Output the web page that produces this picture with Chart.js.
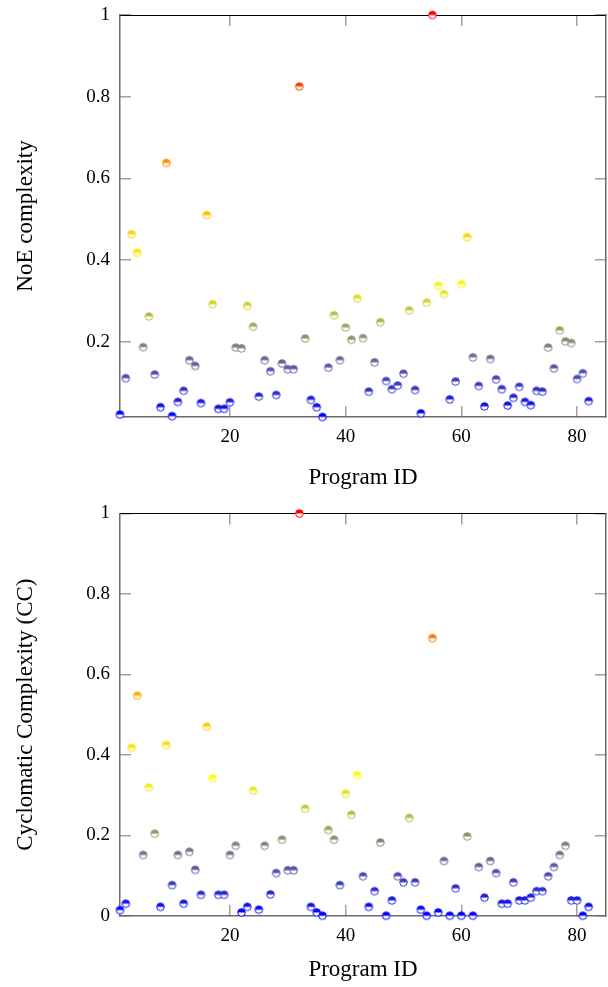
<!DOCTYPE html>
<html><head><meta charset="utf-8">
<script src="https://cdn.jsdelivr.net/npm/chart.js@4.4.1/dist/chart.umd.min.js"></script>
<style>
html,body{margin:0;padding:0;background:#fff;}
#w1{position:absolute;left:0;top:0;width:608px;height:493px;}
#w2{position:absolute;left:0;top:493px;width:608px;height:494px;}
canvas{display:block;}
</style></head><body>
<div id="w1"><canvas id="c1" width="608" height="493"></canvas></div>
<div id="w2"><canvas id="c2" width="608" height="494"></canvas></div>
<script>
const programIds = [1,2,3,4,5,6,7,8,9,10,11,12,13,14,15,16,17,18,19,20,21,22,23,24,25,26,27,28,29,30,31,32,33,34,35,36,37,38,39,40,41,42,43,44,45,46,47,48,49,50,51,52,53,54,55,56,57,58,59,60,61,62,63,64,65,66,67,68,69,70,71,72,73,74,75,76,77,78,79,80,81,82];
const noeComplexity = [0.022,0.111,0.463,0.418,0.187,0.262,0.120,0.040,0.638,0.018,
  0.053,0.080,0.155,0.141,0.050,0.510,0.292,0.036,0.036,0.052,
  0.186,0.184,0.288,0.237,0.066,0.155,0.128,0.070,0.147,0.133,
  0.133,0.825,0.208,0.058,0.040,0.016,0.137,0.265,0.155,0.235,
  0.205,0.306,0.209,0.078,0.150,0.248,0.104,0.084,0.093,0.122,
  0.277,0.082,0.025,0.296,1.000,0.337,0.317,0.059,0.103,0.341,
  0.456,0.162,0.092,0.042,0.158,0.108,0.084,0.044,0.063,0.090,
  0.053,0.045,0.080,0.078,0.186,0.135,0.228,0.201,0.197,0.109,
  0.123,0.055];
const cyclomaticComplexity = [0.014,0.030,0.417,0.547,0.151,0.319,0.204,0.022,0.424,0.076,
  0.151,0.030,0.159,0.114,0.052,0.470,0.341,0.052,0.052,0.151,
  0.174,0.008,0.022,0.311,0.015,0.174,0.053,0.106,0.189,0.113,
  0.113,1.000,0.266,0.022,0.008,0.000,0.213,0.189,0.076,0.303,
  0.251,0.349,0.098,0.022,0.061,0.182,0.000,0.038,0.098,0.083,
  0.243,0.083,0.015,0.000,0.690,0.008,0.136,0.000,0.068,0.000,
  0.197,0.000,0.121,0.045,0.136,0.106,0.030,0.030,0.083,0.038,
  0.038,0.045,0.061,0.061,0.098,0.121,0.151,0.174,0.038,0.038,
  0.000,0.022];
const xTickValues = [20,40,60,80];
const noeTickValues = [0.2,0.4,0.6,0.8,1];
const ccTickValues = [0,0.2,0.4,0.6,0.8,1];
const xTitle = 'Program ID';
const noeTitle = 'NoE complexity';
const ccTitle = 'Cyclomatic Complexity (CC)';

const FONT = "'Liberation Serif', 'Times New Roman', serif";

function colorFor(v, lo, hi) {
  const t = (v - lo) / (hi - lo);
  const s = 0.34;
  let r, g, b;
  if (t <= s) { const f = t / s; r = 255 * f; g = 255 * f; b = 255 * (1 - f); }
  else { const f = (t - s) / (1 - s); r = 255; g = 255 * (1 - f); b = 0; }
  return 'rgb(' + Math.round(r) + ',' + Math.round(g) + ',' + Math.round(b) + ')';
}
const cache = {};
function halfCircle(color) {
  if (cache[color]) return cache[color];
  const c = document.createElement('canvas'); c.width = 11; c.height = 11;
  const g = c.getContext('2d');
  const cx = 5.5, cy = 5.5, r = 3.8;
  g.fillStyle = '#fff'; g.beginPath(); g.arc(cx, cy, r, 0, 2 * Math.PI); g.fill();
  g.fillStyle = color; g.beginPath(); g.arc(cx, cy, r, Math.PI, 2 * Math.PI); g.closePath(); g.fill();
  g.strokeStyle = color; g.lineWidth = 1; g.beginPath(); g.arc(cx, cy, r, 0, 2 * Math.PI); g.stroke();
  cache[color] = c; return c;
}
function zeroPad(s) { s.paddingTop = 0; s.paddingBottom = 0; s.paddingLeft = 0; s.paddingRight = 0; }

function makeChart(id, values, yTicks, yTitle, cfg) {
  const lo = Math.min(...values), hi = Math.max(...values);
  const tickGrid = { drawOnChartArea: false, drawTicks: true, tickLength: -11, color: '#a0a0a0', lineWidth: 1.5 };
  const setX = s => { s.ticks = xTickValues.map(v => ({ value: v })); };
  const setY = s => { s.ticks = yTicks.map(v => ({ value: v })); };
  return new Chart(document.getElementById(id), {
    type: 'scatter',
    data: { datasets: [{
      data: programIds.map((p, i) => ({ x: p, y: values[i] })),
      pointStyle: ctx => halfCircle(colorFor(ctx.raw.y, lo, hi)),
      pointRadius: 4, clip: false
    }] },
    options: {
      responsive: false, animation: false, devicePixelRatio: 1,
      layout: { autoPadding: false, padding: { top: cfg.padTop, right: 2, left: 0, bottom: 0 } },
      plugins: { legend: { display: false }, tooltip: { enabled: false } },
      scales: {
        x: { type: 'linear', position: 'bottom', min: 1, max: 85,
          afterBuildTicks: setX, afterFit: s => { s.height = cfg.xHeight; zeroPad(s); },
          grid: tickGrid, border: { display: true, color: '#6a6a6a', width: 1.5 },
          ticks: { padding: 20, color: '#000', font: { family: FONT, size: 19 }, maxRotation: 0, autoSkip: false, callback: v => String(v) },
          title: { display: true, text: xTitle, color: '#000', font: { family: FONT, size: 23 }, padding: { top: 0, bottom: cfg.xTitlePad } } },
        x2: { type: 'linear', position: 'top', min: 1, max: 85,
          afterBuildTicks: setX, afterFit: s => { s.height = 0; zeroPad(s); },
          grid: tickGrid, border: { display: true, color: '#000', width: 1 },
          ticks: { display: false } },
        y: { type: 'linear', position: 'left', min: lo, max: 1,
          afterBuildTicks: setY, afterFit: s => { s.width = 120; zeroPad(s); },
          grid: tickGrid, border: { display: true, color: '#6a6a6a', width: 1.5 },
          ticks: { padding: 21, color: '#000', font: { family: FONT, size: 19 }, autoSkip: false, callback: v => String(v) },
          title: { display: true, text: yTitle, color: '#000', font: { family: FONT, size: 23 }, padding: { top: 12, bottom: 0 } } },
        y2: { type: 'linear', position: 'right', min: lo, max: 1,
          afterBuildTicks: setY, afterFit: s => { s.width = 0; zeroPad(s); },
          grid: tickGrid, border: { display: true, color: '#6a6a6a', width: 1.5 },
          ticks: { display: false } }
      }
    }
  });
}

makeChart('c1', noeComplexity, noeTickValues, noeTitle, { padTop: 15, xHeight: 76, xTitlePad: 1 });
makeChart('c2', cyclomaticComplexity, ccTickValues, ccTitle, { padTop: 20.5, xHeight: 71.3, xTitlePad: 3 });
</script>
</body></html>
